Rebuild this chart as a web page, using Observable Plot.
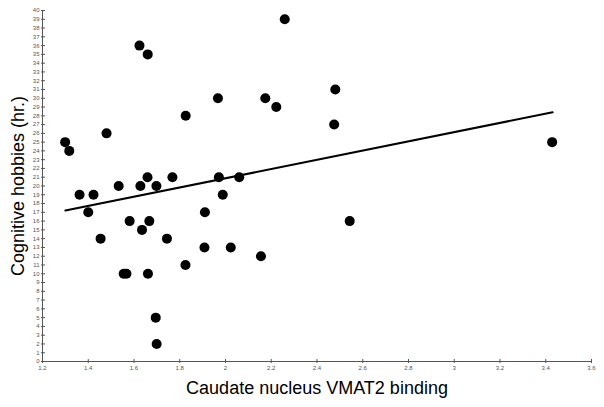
<!DOCTYPE html>
<html>
<head>
<meta charset="utf-8">
<script src="https://cdn.jsdelivr.net/npm/d3@7"></script>
<script src="https://cdn.jsdelivr.net/npm/@observablehq/plot@0.6"></script>
<style>
  body { margin: 0; background: #fff; }
  #chart svg { display: block; }
</style>
</head>
<body>
<div id="chart"></div>
<script>
// Data
const binding = [1.299, 1.317, 1.362, 1.423, 1.400, 1.454, 1.480, 1.533, 1.555, 1.567,
                 1.581, 1.628, 1.635, 1.659, 1.667, 1.661, 1.698, 1.695, 1.699, 1.744,
                 1.768, 1.826, 1.825, 1.624, 1.660, 1.910, 1.908, 1.967, 1.971, 1.988,
                 2.023, 2.060, 2.155, 2.174, 2.222, 2.259, 2.475, 2.480, 2.543, 3.428];
const hobbies = [25, 24, 19, 19, 17, 14, 26, 20, 10, 10,
                 16, 20, 15, 21, 16, 10, 20, 5, 2, 14,
                 21, 28, 11, 36, 35, 17, 13, 30, 21, 19,
                 13, 21, 12, 30, 29, 39, 27, 31, 16, 25];
// fitted line endpoints as drawn in the reference
const fitX = [1.30, 3.43];
const fitY = [17.2, 28.4];
const xTicks = [1.2, 1.4, 1.6, 1.8, 2, 2.2, 2.4, 2.6, 2.8, 3, 3.2, 3.4, 3.6];
const yTicks = d3.range(0, 41);

const points = binding.map((x, i) => ({x, y: hobbies[i]}));
const fit = fitX.map((x, i) => ({x, y: fitY[i]}));

const chart = Plot.plot({
  width: 604,
  height: 407,
  marginLeft: 42,
  marginRight: 13,
  marginTop: 10,
  marginBottom: 46,
  style: {fontFamily: "Liberation Sans, Arial, sans-serif", background: "#fff"},
  x: {domain: [1.2, 3.6]},
  y: {domain: [0, 40]},
  marks: [
    Plot.axisX({ticks: xTicks, tickFormat: d => String(+d.toFixed(1)), tickSize: 2, tickPadding: 2, fontSize: 6, color: "#555", label: null}),
    Plot.axisX({ticks: xTicks, tickSize: -2, text: null, color: "#555", label: null}),
    Plot.axisY({ticks: yTicks, tickFormat: d => String(d), tickSize: 1, tickPadding: 2, fontSize: 6, color: "#555", label: null}),
    Plot.axisY({ticks: yTicks, tickSize: -3, text: null, color: "#555", label: null}),
    Plot.ruleX([1.2], {stroke: "#555"}),
    Plot.ruleY([0], {stroke: "#555"}),
    Plot.line(fit, {x: "x", y: "y", stroke: "#000", strokeWidth: 2}),
    Plot.dot(points, {x: "x", y: "y", r: 5, fill: "#000", stroke: "none"}),
    Plot.text(["Caudate nucleus VMAT2 binding"], {frameAnchor: "bottom", dy: 32, fontSize: 18, fill: "#000"}),
    Plot.text(["Cognitive hobbies (hr.)"], {frameAnchor: "left", textAnchor: "middle", dx: -24, rotate: -90, fontSize: 18, fill: "#000"})
  ]
});
document.getElementById("chart").appendChild(chart);
</script>
</body>
</html>
